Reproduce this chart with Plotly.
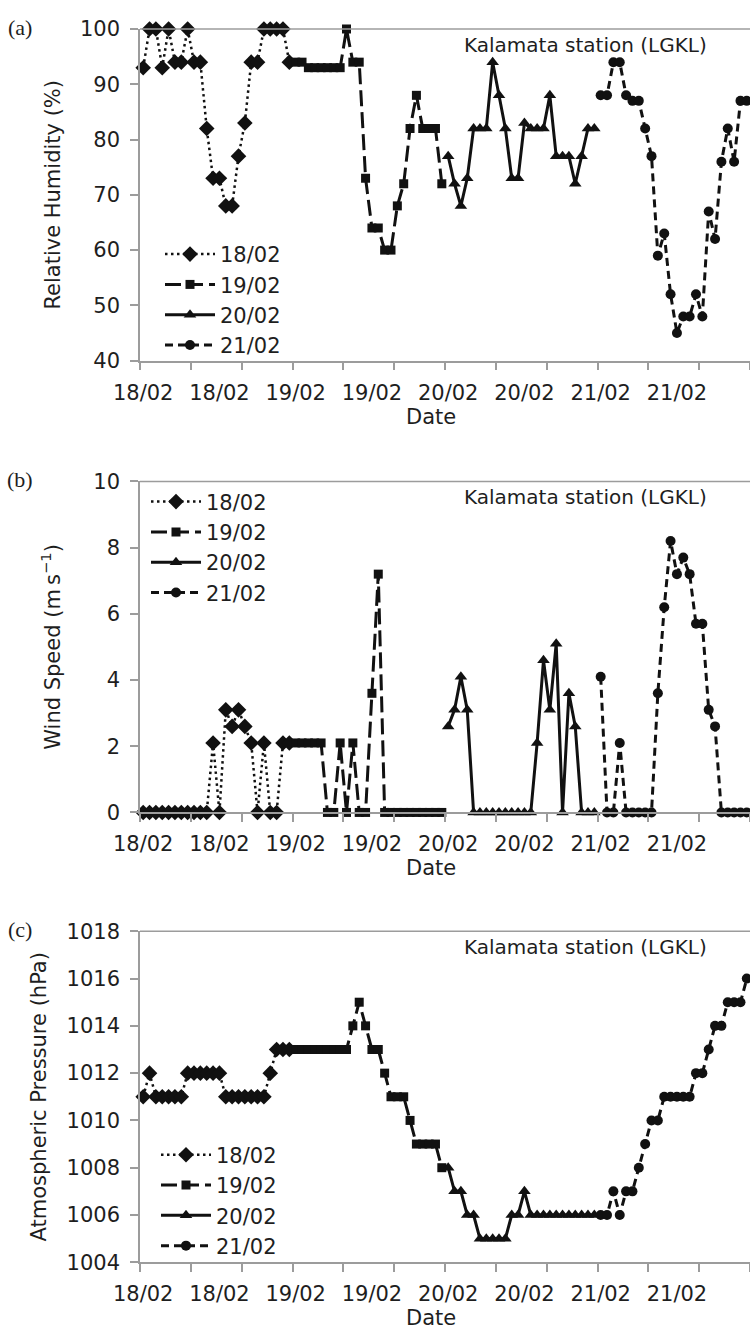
import plotly.graph_objects as go

# ---------------- data (hourly observations, Kalamata station LGKL) ----------------
days = ["18/02", "19/02", "20/02", "21/02"]
hours = list(range(24))
tick_text = ["18/02", "18/02", "19/02", "19/02", "20/02", "20/02", "21/02", "21/02"]

rh_18 = [93, 100, 100, 93, 100, 94, 94, 100, 94, 94, 82, 73, 73, 68, 68, 77, 83, 94, 94, 100, 100, 100, 100, 94]
rh_19 = [94, 94, 93, 93, 93, 93, 93, 93, 100, 94, 94, 73, 64, 64, 60, 60, 68, 72, 82, 88, 82, 82, 82, 72]
rh_20 = [77, 72, 68, 73, 82, 82, 82, 94, 88, 82, 73, 73, 83, 82, 82, 82, 88, 77, 77, 77, 72, 77, 82, 82]
rh_21 = [88, 88, 94, 94, 88, 87, 87, 82, 77, 59, 63, 52, 45, 48, 48, 52, 48, 67, 62, 76, 82, 76, 87, 87]

ws_18 = [0, 0, 0, 0, 0, 0, 0, 0, 0, 0, 0, 2.1, 0, 3.1, 2.6, 3.1, 2.6, 2.1, 0, 2.1, 0, 0, 2.1, 2.1]
ws_19 = [2.1, 2.1, 2.1, 2.1, 2.1, 0, 0, 2.1, 0, 2.1, 0, 0, 3.6, 7.2, 0, 0, 0, 0, 0, 0, 0, 0, 0, 0]
ws_20 = [2.6, 3.1, 4.1, 3.1, 0, 0, 0, 0, 0, 0, 0, 0, 0, 0, 2.1, 4.6, 3.1, 5.1, 0, 3.6, 2.6, 0, 0, 0]
ws_21 = [4.1, 0, 0, 2.1, 0, 0, 0, 0, 0, 3.6, 6.2, 8.2, 7.2, 7.7, 7.2, 5.7, 5.7, 3.1, 2.6, 0, 0, 0, 0, 0]

ap_18 = [1011, 1012, 1011, 1011, 1011, 1011, 1011, 1012, 1012, 1012, 1012, 1012, 1012,
         1011, 1011, 1011, 1011, 1011, 1011, 1011, 1012, 1013, 1013, 1013]
ap_19 = [1013, 1013, 1013, 1013, 1013, 1013, 1013, 1013, 1013, 1014, 1015, 1014,
         1013, 1013, 1012, 1011, 1011, 1011, 1010, 1009, 1009, 1009, 1009, 1008]
ap_20 = [1008, 1007, 1007, 1006, 1006, 1005, 1005, 1005, 1005, 1005, 1006, 1006,
         1007, 1006, 1006, 1006, 1006, 1006, 1006, 1006, 1006, 1006, 1006, 1006]
ap_21 = [1006, 1006, 1007, 1006, 1007, 1007, 1008, 1009, 1010, 1010, 1011, 1011,
         1011, 1011, 1011, 1012, 1012, 1013, 1014, 1014, 1015, 1015, 1015, 1016]

panels = [
    dict(series=[rh_18, rh_19, rh_20, rh_21], title="Relative Humidity (%)",
         yrange=[40, 100], dtick=10, letter="(a)", top=17.3, bottom=355,
         legend_top=226, legend_left=160, standoff=14),
    dict(series=[ws_18, ws_19, ws_20, ws_21], title="Wind Speed (m\u2009s<sup>\u22121</sup>)",
         yrange=[0, 10], dtick=2, letter="(b)", top=478, bottom=815,
         legend_top=478, legend_left=146, standoff=27),
    dict(series=[ap_18, ap_19, ap_20, ap_21], title="Atmospheric Pressure (hPa)",
         yrange=[1004, 1018], dtick=2, letter="(c)", top=936, bottom=1273,
         legend_top=1143, legend_left=156, standoff=14),
]

# ---------------- styles ----------------
W, H = 750, 1344
L_M = 140
FONT = "DejaVu Sans"
TXT = "#1e1e1e"
AX = "#9c9c9c"
INK = "#111111"

styles = {
    "18/02": dict(dash="2.5px,3.5px", width=2.5, symbol="diamond", size=12),
    "19/02": dict(dash="16px,6px", width=3, symbol="square", size=9),
    "20/02": dict(dash="solid", width=3, symbol="triangle-up", size=11),
    "21/02": dict(dash="8px,5px", width=3, symbol="circle", size=10),
}

fig = go.Figure()
layout = dict(
    width=W, height=H,
    margin=dict(l=L_M, r=0, t=0, b=0),
    paper_bgcolor="white", plot_bgcolor="white",
    font=dict(family=FONT, size=21, color=TXT),
    showlegend=True,
    annotations=[], shapes=[],
)

tick_marks = [k * 8 - 0.5 for k in range(13)]
label_pos = [k * 12 for k in range(8)]


def py(px):
    return (H - px) / H


def pxx(px):
    return (px - L_M) / (W - L_M)


for p_idx, p in enumerate(panels):
    n = p_idx + 1
    xa = "x" if n == 1 else f"x{n}"
    ya = "y" if n == 1 else f"y{n}"
    leg = "legend" if n == 1 else f"legend{n}"
    for d_idx, (day, vals) in enumerate(zip(days, p["series"])):
        st = styles[day]
        fig.add_trace(go.Scatter(
            x=[d_idx * 24 + h for h in hours], y=vals,
            mode="lines+markers", name=day,
            xaxis=xa, yaxis=ya, legend=leg,
            legendgroup=f"{n}-{day}",
            line=dict(color=INK, width=st["width"], dash=st["dash"]),
            marker=dict(color=INK, symbol=st["symbol"], size=st["size"], line=dict(width=0)),
            cliponaxis=False,
        ))
    dom = [py(p["bottom"]), py(p["top"])]
    layout["xaxis" if n == 1 else f"xaxis{n}"] = dict(
        domain=[0, 1], anchor=ya, range=[-0.5, 95.5],
        showline=True, linecolor=AX, linewidth=1.5,
        showgrid=False, zeroline=False,
        tickmode="array", tickvals=label_pos, ticktext=tick_text,
        ticks="", ticklabelstandoff=12,
        tickfont=dict(size=21, color=TXT),
        minor=dict(tickmode="array", tickvals=tick_marks, ticks="outside",
                   ticklen=8, tickwidth=1.5, tickcolor=AX, showgrid=False),
        fixedrange=True,
    )
    layout["yaxis" if n == 1 else f"yaxis{n}"] = dict(
        domain=dom, anchor=xa, range=p["yrange"], dtick=p["dtick"],
        tick0=p["yrange"][0],
        showline=True, linecolor=AX, linewidth=1.5,
        showgrid=False, zeroline=False,
        ticks="outside", ticklen=8, tickwidth=1.5, tickcolor=AX,
        ticklabelstandoff=6,
        tickfont=dict(size=21, color=TXT),
        title=dict(text=p["title"], font=dict(size=21, color=TXT), standoff=p["standoff"]),
        fixedrange=True,
    )
    # top border line of the plot area
    layout["shapes"].append(dict(
        type="line", xref=f"{xa} domain", yref=f"{ya} domain",
        x0=0, x1=1, y0=1, y1=1, line=dict(color=AX, width=1.5)))
    # legend
    layout[leg] = dict(
        x=pxx(p["legend_left"]), y=py(p["legend_top"]), xanchor="left", yanchor="top",
        bgcolor="rgba(0,0,0,0)", font=dict(size=21, color=TXT),
        tracegroupgap=4, itemwidth=50, traceorder="normal",
    )
    # panel letter
    layout["annotations"].append(dict(
        text=p["letter"], xref="paper", yref="paper",
        x=pxx(20), y=py(p["top"] - 2), xanchor="center", yanchor="middle",
        showarrow=False, font=dict(family="Liberation Serif", size=22, color=TXT)))
    # station label
    layout["annotations"].append(dict(
        text="Kalamata station (LGKL)", xref="paper", yref="paper",
        x=pxx(585), y=py(p["top"] + 16), xanchor="center", yanchor="middle",
        showarrow=False, font=dict(size=20, color=TXT)))
    # x-axis title
    layout["annotations"].append(dict(
        text="Date", xref="paper", yref="paper",
        x=pxx(431), y=py(p["bottom"] + 57), xanchor="center", yanchor="middle",
        showarrow=False, font=dict(size=21, color=TXT)))

fig.update_layout(**layout)
fig.write_html(
    "out.html",
    config={"displayModeBar": False},
    post_script="document.body.style.margin='0';document.body.style.overflow='hidden';",
)
